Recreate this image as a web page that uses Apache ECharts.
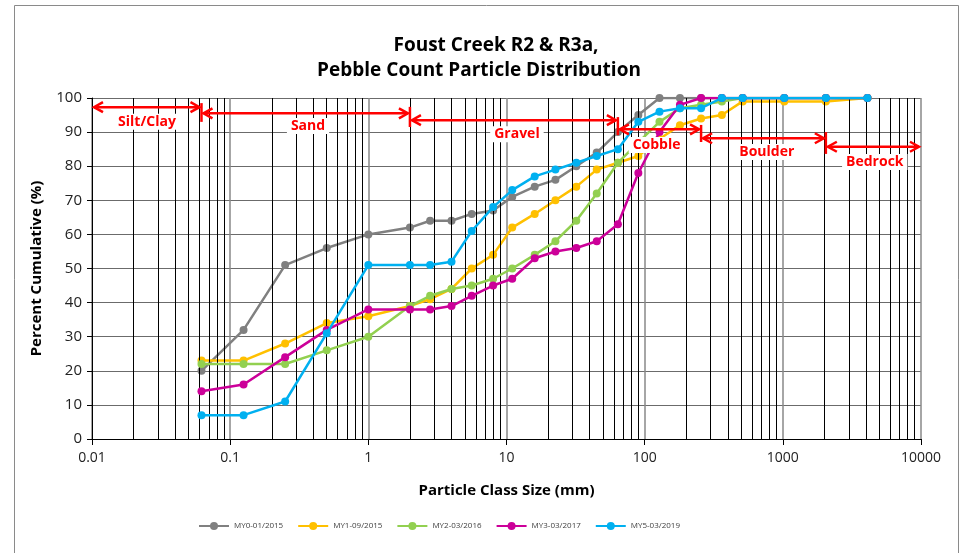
<!DOCTYPE html>
<html>
<head>
<meta charset="utf-8">
<script src="https://cdn.jsdelivr.net/npm/echarts@6/dist/echarts.min.js"></script>
<style>
html,body{margin:0;padding:0;background:#fff;}
#chart{width:968px;height:553px;}
</style>
</head>
<body>
<div id="chart"></div>
<script>
// ---- data ----
const sizes = [0.062,0.125,0.25,0.5,1,2,2.8,4,5.6,8,11,16,22.6,32,45,64,90,128,180,256,362,512,1024,2048,4096];
const seriesNames = ['MY0-01/2015','MY1-09/2015','MY2-03/2016','MY3-03/2017','MY5-03/2019'];
const my0 = [20,32,51,56,60,62,64,64,66,67,71,74,76,80,84,90,95,100,100,100,100,100,100,100,100];
const my1 = [23,23,28,34,36,39,41,44,50,54,62,66,70,74,79,81,83,88,92,94,95,99,99,99,100];
const my2 = [22,22,22,26,30,39,42,44,45,47,50,54,58,64,72,81,87,93,97,98,99,100,100,100,100];
const my3 = [14,16,24,32,38,38,38,39,42,45,47,53,55,56,58,63,78,90,98,100,100,100,100,100,100];
const my5 = [7,7,11,31,51,51,51,52,61,68,73,77,79,81,83,85,93,96,97,97,100,100,100,100,100];
const xTickLabels = ['0.01','0.1','1','10','100','1000','10000'];
const yTickLabels = ['0','10','20','30','40','50','60','70','80','90','100'];
const decades = [0.01,0.1,1,10,100,1000];
const minorMult = [2,3,4,5,6,7,8,9];
// size-class annotations: label, range (mm), arrow level (%), label position (mm, %)
const classNames = ['Silt/Clay','Sand','Gravel','Cobble','Boulder','Bedrock'];
const classFrom  = [0.01,0.062,2,64,256,2048];
const classTo    = [0.062,2,64,256,2048,10000];
const classLevel = [97.3,95.5,93.5,90.8,88.2,85.7];
const classLabelX = [0.025,0.366,11.9,122,765,4630];
const classLabelY = [93.0,91.8,89.4,86.2,84.2,81.2];
const boundaryX  = [0.062,2,64,256,2048];
const boundaryY0 = [98.5,97.4,94.4,92.1,90.0];
const boundaryY1 = [93.0,91.5,89.1,87.1,83.6];

const colors = ['#808080','#FFC000','#92D050','#CC0099','#00B0F0'];
const allData = [my0,my1,my2,my3,my5];
const FONT = '"Open Sans", sans-serif';

const minorLines = [];
decades.forEach(d => minorMult.forEach(m => minorLines.push({xAxis: +(m*d).toPrecision(3)})));

const chart = echarts.init(document.getElementById('chart'));

const series = [{
  name: '_grid', type: 'line', data: [], silent: true, z: 1,
  markLine: {
    silent: true, symbol: 'none', animation: false,
    label: {show: false},
    lineStyle: {color: '#000', width: 1, type: 'solid'},
    emphasis: {disabled: true},
    data: minorLines
  }
}];
allData.forEach((arr, i) => {
  series.push({
    name: seriesNames[i], type: 'line', z: 3 + i,
    data: sizes.map((s, k) => [s, arr[k]]),
    symbol: 'circle', symbolSize: 8,
    lineStyle: {width: 2.5, color: colors[i]},
    itemStyle: {color: colors[i]},
    emphasis: {disabled: true}
  });
});

const option = {
  animation: false,
  backgroundColor: '#fff',
  grid: {left: 92, right: 47, top: 98, bottom: 114},
  legend: {
    data: seriesNames, left: 193, top: 517, itemWidth: 30, itemHeight: 10, itemGap: 14,
    textStyle: {fontFamily: FONT, fontSize: 8, color: '#404040'}
  },
  xAxis: {
    type: 'log', logBase: 10, min: 0.01, max: 10000,
    name: 'Particle Class Size (mm)', nameLocation: 'middle', nameGap: 44,
    nameTextStyle: {fontFamily: FONT, fontSize: 15, fontWeight: 'bold', color: '#000'},
    axisLine: {lineStyle: {color: '#000', width: 1}},
    axisTick: {show: true, inside: false, length: 6, lineStyle: {color: '#000'}},
    axisLabel: {
      fontFamily: FONT, fontSize: 14, color: '#222', margin: 12,
      formatter: v => xTickLabels[Math.round(Math.log10(v)) + 2]
    },
    splitLine: {show: true, lineStyle: {color: '#888', width: 1.5}},
    minorTick: {show: false}
  },
  yAxis: {
    type: 'value', min: 0, max: 100, interval: 10,
    name: 'Percent Cumulative (%)', nameLocation: 'middle', nameGap: 48,
    nameTextStyle: {fontFamily: FONT, fontSize: 15, fontWeight: 'bold', color: '#000'},
    axisLine: {show: true, lineStyle: {color: '#000', width: 1}},
    axisTick: {show: true, length: 5, lineStyle: {color: '#000'}},
    axisLabel: {fontFamily: FONT, fontSize: 15, color: '#222', margin: 10,
      formatter: v => yTickLabels[Math.round(v / 10)]},
    splitLine: {show: true, lineStyle: {color: '#6b6b6b', width: 1.2}}
  },
  series: series
};
chart.setOption(option);

function px(x, y) { return chart.convertToPixel({xAxisIndex: 0, yAxisIndex: 0}, [x, y]); }

function buildGraphics() {
  const g = [];
  const RED = '#FF0000';
  g.push({type: 'rect', z: 0, silent: true,
    shape: {x: 14.5, y: 5.5, width: 944, height: 580},
    style: {fill: 'none', stroke: '#8a8a8a', lineWidth: 1}});
  g.push({type: 'text', z: 100, silent: true,
    style: {text: 'Foust Creek R2 & R3a,', x: 496, y: 46, textAlign: 'center', textVerticalAlign: 'middle',
      font: 'bold 19px "Open Sans", sans-serif', fill: '#000'}});
  g.push({type: 'text', z: 100, silent: true,
    style: {text: 'Pebble Count Particle Distribution', x: 479, y: 71, textAlign: 'center', textVerticalAlign: 'middle',
      font: 'bold 19px "Open Sans", sans-serif', fill: '#000'}});
  // class arrows
  classNames.forEach((nm, i) => {
    const a = px(classFrom[i], classLevel[i]);
    const b = px(classTo[i], classLevel[i]);
    const x0 = a[0] + 2, x1 = b[0] - 2, y = a[1];
    g.push({type: 'line', z: 100, silent: true, shape: {x1: x0, y1: y, x2: x1, y2: y},
      style: {stroke: RED, lineWidth: 2.5}});
    g.push({type: 'polyline', z: 100, silent: true, shape: {points: [[x0 + 9, y - 5], [x0, y], [x0 + 9, y + 5]]},
      style: {stroke: RED, lineWidth: 2.5, fill: 'none'}});
    g.push({type: 'polyline', z: 100, silent: true, shape: {points: [[x1 - 9, y - 5], [x1, y], [x1 - 9, y + 5]]},
      style: {stroke: RED, lineWidth: 2.5, fill: 'none'}});
    const t = px(classLabelX[i], classLabelY[i]);
    g.push({type: 'text', z: 101, silent: true,
      style: {text: nm, x: t[0], y: t[1], textAlign: 'center', textVerticalAlign: 'middle',
        font: 'bold 14px "Open Sans", sans-serif', fill: RED,
        backgroundColor: '#fff', padding: [1, 4, 1, 4]}});
  });
  boundaryX.forEach((bx, i) => {
    const p0 = px(bx, boundaryY0[i]);
    const p1 = px(bx, boundaryY1[i]);
    g.push({type: 'line', z: 100, silent: true, shape: {x1: p0[0], y1: p0[1], x2: p1[0], y2: p1[1]},
      style: {stroke: RED, lineWidth: 2.5}});
  });
  return g;
}
chart.setOption({graphic: buildGraphics()});
</script>
</body>
</html>
